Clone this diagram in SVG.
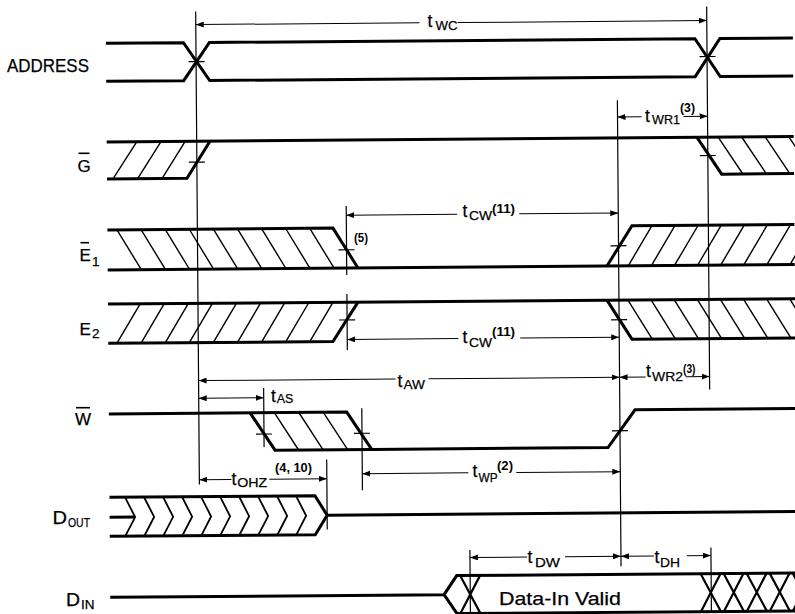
<svg xmlns="http://www.w3.org/2000/svg" width="795" height="614" viewBox="0 0 795 614">
<defs>
<style>
.sig{fill:none;stroke:#000;stroke-width:3;stroke-linejoin:miter}
.xs{fill:none;stroke:#000;stroke-width:2.2}
.hat{fill:none;stroke:#000;stroke-width:1.4}
.chev{fill:none;stroke:#000;stroke-width:1.8;stroke-linejoin:miter}
.ref{fill:none;stroke:#000;stroke-width:1.2}
.tick{fill:none;stroke:#000;stroke-width:1.2}
.dim{fill:none;stroke:#000;stroke-width:1;marker-end:url(#ah)}
.bar{stroke:#000;stroke-width:1.6}
text{font-family:"Liberation Sans",Arial,Helvetica,sans-serif;fill:#000;stroke:#000;stroke-width:0.25}
.lbl{font-size:18px}
.nm{font-size:17px}
.t{font-size:17.5px}
.sub{font-size:13.5px}
.sup{font-size:12px;font-weight:bold;stroke-width:0}
</style>
<marker id="ah" viewBox="0 0 8 6" refX="8" refY="3" markerWidth="8" markerHeight="6" markerUnits="userSpaceOnUse" orient="auto"><path d="M0,0 L8,3 L0,6 z" fill="#000"/></marker>
</defs>
<rect width="795" height="614" fill="#fff"/>

<g id="address">
 <g transform="rotate(-0.45 400 307)">
  <path class="sig" d="M108,41 H185.5 L211.5,79 H697 L722,41 H795"/>
  <path class="sig" d="M108,79 H185.5 L211.5,41 H697 L722,79 H795"/>
  <path class="tick" d="M190.5,60 H206.5 M701.5,59 H717.5"/>
 </g>
 <text class="lbl" x="7" y="72" font-size="18.5" textLength="82" lengthAdjust="spacingAndGlyphs">ADDRESS</text>
</g>

<g id="g-enable">
 <g transform="rotate(-0.45 400 307)">
  <path class="sig" d="M108,139.7 H795"/>
  <path class="sig" d="M108,176.7 H188 L211.3,139.7"/>
  <path class="sig" d="M698.3,139.7 L722.7,176.7 H795"/>
  <path class="hat" d="M114,176.7 L138,139.7 M138.5,176.7 L162.3,139.7 M163,176.7 L186.5,139.7 M719.5,139.7 L743.9,176.7 M743,139.7 L767.4,176.7 M766.5,139.7 L790.9,176.7 M790,139.7 L814.4,176.7"/>
  <path class="tick" d="M190,160.5 H206 M701,158 H717"/>
 </g>
 <text class="nm" x="77.5" y="172">G</text>
 <line class="bar" x1="78.5" y1="153.3" x2="89.5" y2="153.3"/>
</g>

<g id="e1">
 <g transform="rotate(-0.45 400 307)">
  <path class="sig" d="M108,227.6 H333.6 L358.3,267.6"/>
  <path class="sig" d="M108,267.6 H795"/>
  <path class="sig" d="M607.3,267.6 L632.6,227.6 H795"/>
  <path class="hat" d="M117.6,227.6 L141.6,267.6 M141.7,227.6 L165.7,267.6 M165.8,227.6 L189.8,267.6 M189.9,227.6 L213.9,267.6 M214,227.6 L238,267.6 M238.1,227.6 L262.1,267.6 M262.2,227.6 L286.2,267.6 M286.3,227.6 L310.3,267.6 M310.4,227.6 L334.4,267.6"/>
  <path class="hat" d="M628.6,267.6 L652.6,227.6 M651.7,267.6 L675.7,227.6 M674.8,267.6 L698.8,227.6 M697.9,267.6 L721.9,227.6 M721,267.6 L745,227.6 M744.1,267.6 L768.1,227.6 M767.2,267.6 L791.2,227.6 M790.3,267.6 L814.3,227.6"/>
  <path class="tick" d="M339,249.4 H355 M611,247.5 H627"/>
 </g>
 <text class="nm" x="79.5" y="261">E</text>
 <text class="sub" x="92" y="266" font-size="12.5">1</text>
 <line class="bar" x1="80.5" y1="242.7" x2="89" y2="242.7"/>
 <text class="sup" x="354" y="242" textLength="14" lengthAdjust="spacingAndGlyphs">(5)</text>
</g>

<g id="e2">
 <g transform="rotate(-0.45 400 307)">
  <path class="sig" d="M108,341 H332.7 L358,301.8"/>
  <path class="sig" d="M108,301.8 H795"/>
  <path class="sig" d="M607,301.8 L631.7,341 H795"/>
  <path class="hat" d="M116.7,341 L140.2,301.8 M140.8,341 L164.3,301.8 M164.9,341 L188.4,301.8 M189,341 L212.5,301.8 M213.1,341 L236.6,301.8 M237.2,341 L260.7,301.8 M261.3,341 L284.8,301.8 M285.4,341 L308.9,301.8 M309.5,341 L333,301.8"/>
  <path class="hat" d="M628,301.8 L652,341 M651.1,301.8 L675.1,341 M674.2,301.8 L698.2,341 M697.3,301.8 L721.3,341 M720.4,301.8 L744.4,341 M743.5,301.8 L767.5,341 M766.6,301.8 L790.6,341 M789.7,301.8 L813.7,341"/>
  <path class="tick" d="M339,319.5 H355 M611,321.5 H627"/>
 </g>
 <text class="nm" x="79.5" y="335">E</text>
 <text class="sub" x="92" y="337.5" font-size="12.5">2</text>
</g>

<g id="w">
 <g transform="rotate(-0.45 400 307)">
  <path class="sig" d="M108,411.7 H345.9 L370.6,449.2 H606.9 L634.2,411.7 H795"/>
  <path class="sig" d="M249.2,411.7 L273.9,449.2 H370.6"/>
  <path class="hat" d="M273.5,411.7 L297.5,449.2 M298,411.7 L322,449.2 M322.5,411.7 L346.5,449.2"/>
  <path class="tick" d="M255,433 H271 M353,433 H369 M611,432.5 H627"/>
 </g>
 <text class="nm" x="75" y="424.5">W</text>
 <line class="bar" x1="76" y1="407.7" x2="90" y2="407.7"/>
</g>

<g id="dout">
 <g transform="rotate(-0.45 400 307)">
  <path class="sig" d="M108,495 H313.5 L325.5,514.7 L313.5,534 H108"/>
  <path class="sig" d="M325.5,514.7 H795"/>
  <path class="sig" d="M108,515 H133.5"/>
  <path class="chev" d="M123.5,495 L133.5,515 L123.5,534 M142.5,495 L152.5,515 L142.5,534 M161.5,495 L171.5,515 L161.5,534 M180.5,495 L190.5,515 L180.5,534 M199.5,495 L209.5,515 L199.5,534 M218.5,495 L228.5,515 L218.5,534 M237.5,495 L247.5,515 L237.5,534 M256.5,495 L266.5,515 L256.5,534 M275.5,495 L285.5,515 L275.5,534 M294.5,495 L304.5,515 L294.5,534"/>
 </g>
 <text class="lbl" x="52.5" y="524" textLength="14.5" lengthAdjust="spacingAndGlyphs">D</text>
 <text class="sub" x="68" y="527" textLength="22" lengthAdjust="spacingAndGlyphs">OUT</text>
</g>

<g id="din">
 <g transform="rotate(-0.45 400 307)">
  <path class="sig" d="M108,595 H441.8 L454.6,576 H795"/>
  <path class="sig" d="M441.8,595 L454.6,614 H795"/>
  <path class="xs" d="M458,576 L478,614 M478,576 L458,614"/>
  <path class="xs" d="M698.5,576 L718.5,614 M718.5,576 L698.5,614 M721.5,576 L741.5,614 M741.5,576 L721.5,614 M744.5,576 L764.5,614 M764.5,576 L744.5,614 M767.5,576 L787.5,614 M787.5,576 L767.5,614 M790.5,576 L810.5,614 M810.5,576 L790.5,614"/>
 </g>
 <text x="499" y="605" font-size="19" textLength="122" lengthAdjust="spacingAndGlyphs">Data-In Valid</text>
 <text class="lbl" x="66" y="605.5" textLength="14" lengthAdjust="spacingAndGlyphs">D</text>
 <text class="sub" x="81" y="608.5" font-size="12.5">IN</text>
</g>

<g id="connectors">
 <g transform="rotate(-0.45 400 307)">
  <path class="ref" d="M198,10 V483 M709,9 V392 M619,102 V568 M347,205.5 V274.5 M347,293.5 V349.5 M263,387 V446 M361,408 V490 M325.5,459 V529 M468,550.5 V614 M709,550 V614"/>
  <line class="dim" x1="421.7" y1="23" x2="198" y2="23"/>
  <line class="dim" x1="460" y1="23" x2="709" y2="23"/>
  <line class="dim" x1="643" y1="118.7" x2="619" y2="118.7"/>
  <line class="dim" x1="685" y1="118.7" x2="709" y2="118.7"/>
  <line class="dim" x1="458" y1="214.8" x2="347" y2="214.8"/>
  <line class="dim" x1="520" y1="214.8" x2="619" y2="214.8"/>
  <line class="dim" x1="458" y1="339" x2="347" y2="339"/>
  <line class="dim" x1="520" y1="339" x2="619" y2="339"/>
  <line class="dim" x1="395" y1="379" x2="198" y2="379"/>
  <line class="dim" x1="428" y1="379" x2="619" y2="379"/>
  <line class="dim" x1="645" y1="379" x2="619" y2="379"/>
  <line class="dim" x1="685" y1="379" x2="709" y2="379"/>
  <line class="dim" x1="230" y1="396.7" x2="198" y2="396.7"/>
  <line class="dim" x1="230" y1="396.7" x2="263" y2="396.7"/>
  <line class="dim" x1="467" y1="473.4" x2="361" y2="473.4"/>
  <line class="dim" x1="515" y1="473.4" x2="619" y2="473.4"/>
  <line class="dim" x1="230" y1="478.2" x2="198" y2="478.2"/>
  <line class="dim" x1="268" y1="478.2" x2="325.5" y2="478.2"/>
  <line class="dim" x1="525" y1="558" x2="468" y2="558"/>
  <line class="dim" x1="563" y1="558" x2="619" y2="558"/>
  <line class="dim" x1="652" y1="558" x2="619" y2="558"/>
  <line class="dim" x1="685" y1="558" x2="709" y2="558"/>
 </g>
 <g id="timing-labels">
  <text class="t" x="427.5" y="27">t</text><text class="sub" x="435.5" y="30" textLength="22" lengthAdjust="spacingAndGlyphs">WC</text>
  <text class="t" x="645" y="121.7">t</text><text class="sub" x="652" y="124.3" textLength="28" lengthAdjust="spacingAndGlyphs">WR1</text><text class="sup" x="680" y="112" textLength="15" lengthAdjust="spacingAndGlyphs">(3)</text>
  <text class="t" x="462.5" y="217">t</text><text class="sub" x="469" y="219.5" textLength="23" lengthAdjust="spacingAndGlyphs">CW</text><text class="sup" x="492" y="212.5" textLength="23" lengthAdjust="spacingAndGlyphs">(11)</text>
  <text class="t" x="462.5" y="343">t</text><text class="sub" x="469" y="346.5" textLength="23" lengthAdjust="spacingAndGlyphs">CW</text><text class="sup" x="492" y="336" textLength="23" lengthAdjust="spacingAndGlyphs">(11)</text>
  <text class="t" x="397.5" y="387">t</text><text class="sub" x="403.5" y="388.5" textLength="21.5" lengthAdjust="spacingAndGlyphs">AW</text>
  <text class="t" x="646" y="376.7">t</text><text class="sub" x="652" y="380.7" textLength="31" lengthAdjust="spacingAndGlyphs">WR2</text><text class="sup" x="683" y="372.5" textLength="12.5" lengthAdjust="spacingAndGlyphs">(3)</text>
  <text class="t" x="271" y="401.7">t</text><text class="sub" x="276.7" y="403.3" textLength="16.6" lengthAdjust="spacingAndGlyphs">AS</text>
  <text class="t" x="472.5" y="477">t</text><text class="sub" x="478.5" y="481.7" textLength="19" lengthAdjust="spacingAndGlyphs">WP</text><text class="sup" x="497" y="470" textLength="16" lengthAdjust="spacingAndGlyphs">(2)</text>
  <text class="t" x="231.5" y="485">t</text><text class="sub" x="237.3" y="487.3" textLength="30" lengthAdjust="spacingAndGlyphs">OHZ</text><text class="sup" x="275" y="471.5" textLength="37" lengthAdjust="spacingAndGlyphs">(4, 10)</text>
  <text class="t" x="527.5" y="563">t</text><text class="sub" x="535" y="567" textLength="25" lengthAdjust="spacingAndGlyphs">DW</text>
  <text class="t" x="654.5" y="563.3">t</text><text class="sub" x="660" y="566.7" textLength="20" lengthAdjust="spacingAndGlyphs">DH</text>
 </g>
</g>
</svg>
